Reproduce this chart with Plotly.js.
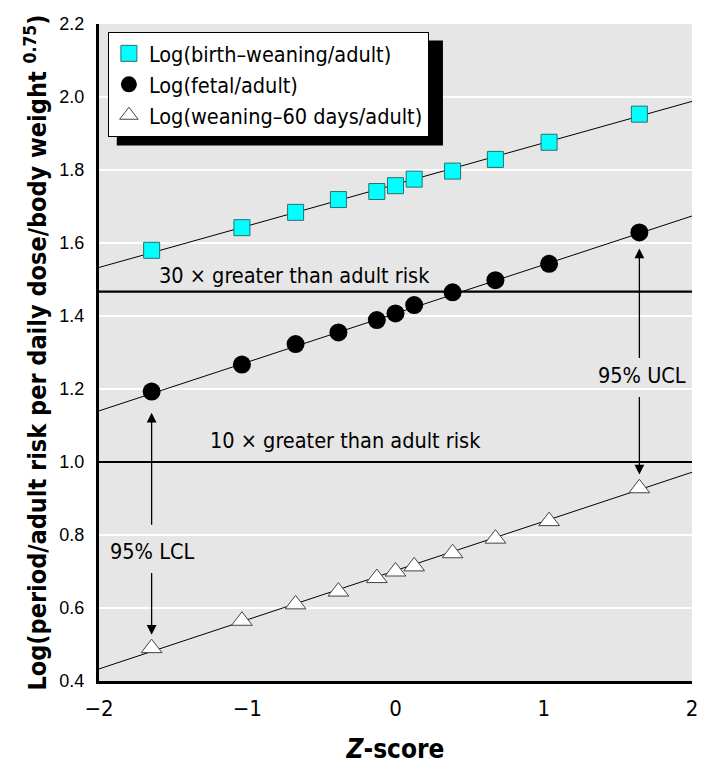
<!DOCTYPE html>
<html>
<head>
<meta charset="utf-8">
<script src="https://cdn.plot.ly/plotly-3.0.1.min.js"></script>
<style>html,body{margin:0;padding:0;background:#fff;}#chart{width:707px;height:773px;}</style>
</head>
<body>
<div id="chart"></div>
<script>
// Standard-normal Z-scores of the percentiles
const zScores = [-1.645, -1.036, -0.674, -0.385, -0.126, 0, 0.126, 0.385, 0.674, 1.036, 1.645];
// Series values
const birthWeaning = [1.580, 1.642, 1.684, 1.719, 1.741, 1.757, 1.775, 1.797, 1.829, 1.876, 1.953];
const fetal        = [1.193, 1.267, 1.323, 1.355, 1.389, 1.407, 1.430, 1.465, 1.498, 1.543, 1.629];
const weaning60    = [0.490, 0.565, 0.610, 0.645, 0.682, 0.700, 0.714, 0.750, 0.790, 0.838, 0.928];
// Fitted lines (end points)
const fitX = [-2, 2];
const fitBirth   = [1.533, 1.988];
const fitFetal   = [1.140, 1.674];
const fitWeaning = [0.433, 0.972];
// Reference levels
const refLevels = [1.467, 1.0];
const refLabels = ['30 × greater than adult risk', '10 × greater than adult risk'];
const seriesNames = ['Log(birth–weaning/adult)', 'Log(fetal/adult)', 'Log(weaning–60 days/adult)'];
const xTickVals = [-2, -1, 0, 1, 2];
const yTickVals = [0.4, 0.6, 0.8, 1.0, 1.2, 1.4, 1.6, 1.8, 2.0, 2.2];

const NARROW = '"Liberation Sans Narrow", "DejaVu Sans Condensed", "Arial Narrow", sans-serif';
const ARIAL = '"Liberation Sans", Arial, sans-serif';

const traces = [];
// reference lines
refLevels.forEach(v => traces.push({
  x: fitX, y: [v, v], mode: 'lines', showlegend: false, hoverinfo: 'skip',
  line: {color: '#000', width: 2.2}
}));
// fitted lines
[fitBirth, fitFetal, fitWeaning].forEach(f => traces.push({
  x: fitX, y: f, mode: 'lines', showlegend: false, hoverinfo: 'skip',
  line: {color: '#000', width: 1}
}));
traces.push({
  x: zScores, y: birthWeaning, mode: 'markers', name: seriesNames[0],
  marker: {symbol: 'square', size: 16, color: '#00ffff', line: {color: '#2b6f6f', width: 1}}
});
traces.push({
  x: zScores, y: fetal, mode: 'markers', name: seriesNames[1],
  marker: {symbol: 'circle', size: 18, color: '#000', line: {color: '#000', width: 0}}
});
traces.push({
  x: zScores, y: weaning60, mode: 'markers', name: seriesNames[2],
  marker: {symbol: 'triangle-up', size: 18, color: '#fff', line: {color: '#444', width: 1}}
});

const annFont = {family: NARROW, size: 21.5, color: '#000'};
const arrowStyle = {xref: 'x', yref: 'y', axref: 'x', ayref: 'y', text: '', showarrow: true, arrowhead: 2, arrowsize: 1.5, arrowwidth: 1.3, arrowcolor: '#000'};
const annotations = [
  {x: -1.61, y: 1.512, xref: 'x', yref: 'y', text: refLabels[0], showarrow: false, xanchor: 'left', yanchor: 'middle', font: annFont},
  {x: -1.265, y: 1.06, xref: 'x', yref: 'y', text: refLabels[1], showarrow: false, xanchor: 'left', yanchor: 'middle', font: annFont},
  {x: -1.645, y: 0.756, xref: 'x', yref: 'y', text: '95% LCL', showarrow: false, xanchor: 'center', yanchor: 'middle', font: annFont},
  {x: 1.665, y: 1.236, xref: 'x', yref: 'y', text: '95% UCL', showarrow: false, xanchor: 'center', yanchor: 'middle', font: annFont},
  Object.assign({x: -1.645, y: 1.135, ax: -1.645, ay: 0.824}, arrowStyle),
  Object.assign({x: -1.645, y: 0.527, ax: -1.645, ay: 0.700}, arrowStyle),
  Object.assign({x: 1.645, y: 1.585, ax: 1.645, ay: 1.281}, arrowStyle),
  Object.assign({x: 1.645, y: 0.966, ax: 1.645, ay: 1.182}, arrowStyle)
];

const layout = {
  width: 707, height: 773,
  margin: {l: 99, r: 15, t: 24, b: 92},
  paper_bgcolor: '#fff', plot_bgcolor: '#e6e6e6',
  showlegend: true,
  legend: {
    x: 0.015, y: 0.988, xanchor: 'left', yanchor: 'top',
    bgcolor: '#fff', bordercolor: '#000', borderwidth: 1,
    font: {family: NARROW, size: 21.5, color: '#000'},
    itemwidth: 30, tracegroupgap: 0
  },
  xaxis: {
    range: [-2, 2], tickvals: xTickVals, showgrid: false, zeroline: false,
    showline: true, linecolor: '#000', linewidth: 3, mirror: false,
    ticks: '', ticklabelstandoff: 6,
    tickfont: {family: NARROW, size: 22, color: '#000'},
    title: {text: '<b><i>Z</i>-score</b>', font: {family: NARROW, size: 26, color: '#000'}, standoff: 20}
  },
  yaxis: {
    range: [0.4, 2.2], tickvals: yTickVals, tickformat: '.1f',
    showgrid: true, gridcolor: '#fff', gridwidth: 2, zeroline: false,
    showline: true, linecolor: '#000', linewidth: 3,
    ticks: '', ticklabelstandoff: 8,
    tickfont: {family: ARIAL, size: 18, color: '#000'},
    title: {text: '<b>Log(period/adult risk per daily dose/body weight <sup>0.75</sup>)</b>', font: {family: NARROW, size: 25, color: '#000'}, standoff: 6}
  },
  shapes: [
    {type: 'rect', xref: 'paper', yref: 'paper', x0: 0.03, x1: 0.58, y0: 0.815, y1: 0.975, fillcolor: '#000', line: {width: 0}, layer: 'above'}
  ],
  annotations: annotations
};

Plotly.newPlot('chart', traces, layout, {displayModeBar: false, staticPlot: true});
</script>
</body>
</html>
